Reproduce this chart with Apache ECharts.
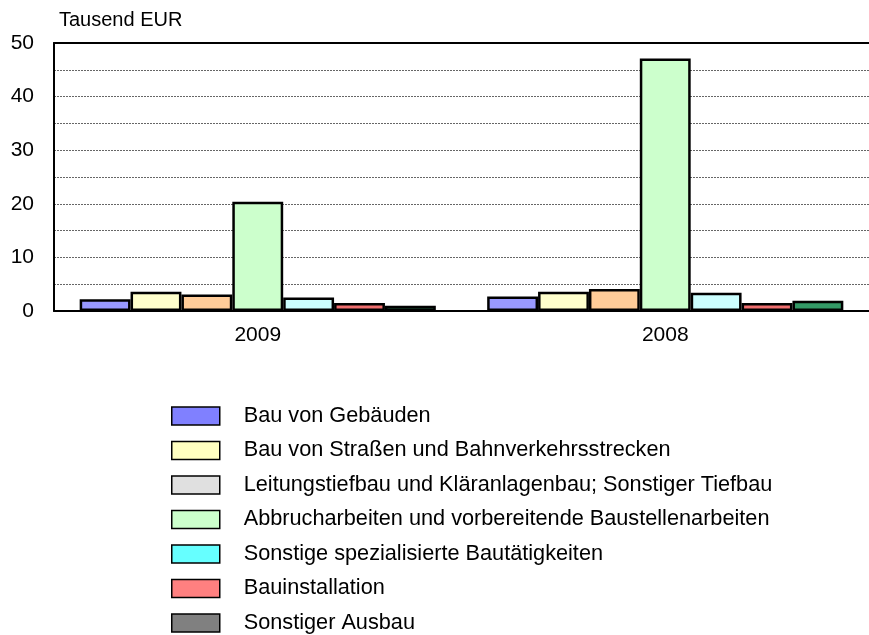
<!DOCTYPE html>
<html><head><meta charset="utf-8">
<script src="https://cdn.jsdelivr.net/npm/echarts@6/dist/echarts.min.js"></script>
<style>html,body{margin:0;padding:0;background:#fff}#c{width:869px;height:635px}</style>
</head><body><div id="c"></div>
<script>
const categories = ['2009', '2008'];
const seriesNames = [
  'Bau von Gebäuden',
  'Bau von Straßen und Bahnverkehrsstrecken',
  'Leitungstiefbau und Kläranlagenbau; Sonstiger Tiefbau',
  'Abbrucharbeiten und vorbereitende Baustellenarbeiten',
  'Sonstige spezialisierte Bautätigkeiten',
  'Bauinstallation',
  'Sonstiger Ausbau'
];
const values = [
  [2.2, 2.7],
  [3.6, 3.6],
  [3.1, 4.1],
  [20.4, 47.1],
  [2.5, 3.4],
  [1.5, 1.5],
  [1.0, 1.9]
];
const barColors = ['#9999ff', '#ffffcc', '#ffcc99', '#ccffcc', '#ccffff', '#f07070', '#339966'];
const legendColors = ['#8080ff', '#ffffc0', '#e0e0e0', '#ccffcc', '#66ffff', '#ff8080', '#808080'];
const yTicks = [0, 10, 20, 30, 40, 50];

const FONT = 'Liberation Sans, Arial, sans-serif';
const chart = echarts.init(document.getElementById('c'), null, {renderer: 'canvas'});
chart.setOption({
  animation: false,
  textStyle: {fontFamily: FONT},
  title: {text: 'Tausend EUR', left: 59, top: 10, padding: 0, textStyle: {fontSize: 20, fontWeight: 'normal', color: '#000', fontFamily: FONT}},
  grid: {left: 54, right: -8, top: 43, bottom: 324, containLabel: false},
  legend: {
    orient: 'vertical', left: 171, top: 405, height: 300, padding: 0,
    itemWidth: 48, itemHeight: 18, itemGap: 12.5,
    textStyle: {fontSize: 21.7, lineHeight: 18, color: '#000', fontFamily: FONT, padding: [0, 0, 0, 19]},
    icon: 'rect',
    selectedMode: false,
    data: seriesNames.map((n, i) => ({name: n, itemStyle: {color: legendColors[i], borderColor: '#000', borderWidth: 1.5}}))
  },
  xAxis: [{
    type: 'category', data: categories, position: 'bottom',
    axisLine: {lineStyle: {color: '#000', width: 2}},
    axisTick: {show: false},
    axisLabel: {fontSize: 21, color: '#000', margin: 14, fontFamily: FONT}
  }, {
    type: 'category', data: categories, position: 'top',
    axisLine: {show: true, lineStyle: {color: '#000', width: 2}},
    axisTick: {show: false}, axisLabel: {show: false}
  }],
  yAxis: {
    type: 'value', min: 0, max: 50, interval: 5,
    axisLine: {show: true, lineStyle: {color: '#000', width: 2}},
    axisTick: {show: false},
    axisLabel: {fontSize: 21, color: '#000', margin: 20, fontFamily: FONT,
      formatter: v => yTicks.includes(v) ? String(v) : ''},
    splitLine: {lineStyle: {color: '#666', type: [2, 1], width: 1}}
  },
  series: seriesNames.map((n, i) => ({
    name: n, type: 'bar', data: values[i],
    barGap: '0%', barCategoryGap: '12.6%',
    itemStyle: {color: barColors[i], borderColor: '#000', borderWidth: 2.5}
  }))
});
</script></body></html>
